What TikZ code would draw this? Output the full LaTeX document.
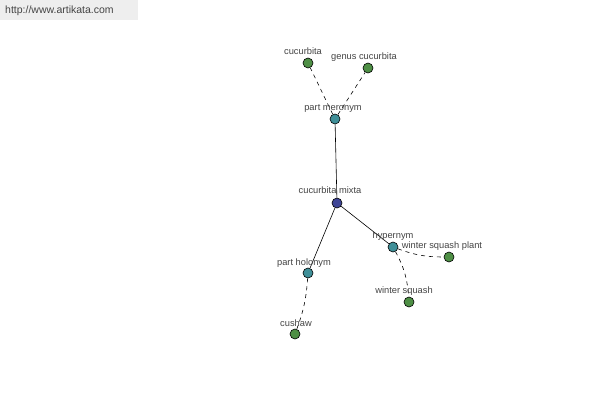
\documentclass[tikz,border=0pt]{standalone}
\usepackage{fontspec}
\setmainfont{Liberation Sans}
\definecolor{gnode}{HTML}{4E8F45}
\definecolor{tnode}{HTML}{3F8F98}
\definecolor{bnode}{HTML}{3F4596}
\definecolor{lbl}{HTML}{444444}
\definecolor{hdr}{HTML}{EEEEEE}
\begin{document}
\begin{tikzpicture}[x=1pt,y=-1pt,
  dot/.style={circle,draw=black,line width=0.6pt,minimum size=10pt,inner sep=0pt},
  gdot/.style={dot,fill=gnode},
  tdot/.style={dot,fill=tnode},
  bdot/.style={dot,fill=bnode},
  lab/.style={font=\fontsize{9.3}{10}\selectfont,text=lbl,inner sep=0pt},
  solidedge/.style={draw=black,line width=0.6pt},
  dashedge/.style={draw=black,line width=0.6pt,dashed,dash pattern=on 4pt off 4pt}]
\useasboundingbox (0,0) rectangle (600,400);
\fill[white] (0,0) rectangle (600,400);
\fill[hdr] (0,0) rectangle (138,20);
\node[font=\fontsize{10.5}{12}\selectfont,text=lbl,anchor=west,inner sep=0pt] (url) at (5,11) {http://www.artikata.com};
% nodes
\node[gdot] (cuc) at (308,63) {};
\node[gdot] (gen) at (368,68) {};
\node[tdot] (mer) at (335,119) {};
\node[bdot] (mix) at (337,203) {};
\node[tdot] (hyp) at (393,247) {};
\node[gdot] (wsp) at (449,257) {};
\node[tdot] (hol) at (308,273) {};
\node[gdot] (ws) at (409,302) {};
\node[gdot] (cus) at (295,334) {};
% edges
\draw[dashedge] (mer) -- (cuc);
\draw[dashedge] (mer) -- (gen);
\draw[solidedge] (mer) -- (mix);
\draw[solidedge] (mix) -- (hyp);
\draw[solidedge] (mix) -- (hol);
\draw[dashedge] (hyp) to[bend right=10] (wsp);
\draw[dashedge] (hyp) to[bend left=12] (ws);
\draw[dashedge] (hol) to[bend left=8] (cus);
% labels
\node[lab] (lcuc) at (303,51) {cucurbita};
\node[lab] (lgen) at (364,57) {genus cucurbita};
\node[lab] (lmer) at (333,108) {part meronym};
\node[lab] (lmix) at (330,190) {cucurbita mixta};
\node[lab] (lhyp) at (393,236) {hypernym};
\node[lab] (lwsp) at (442,246) {winter squash plant};
\node[lab] (lhol) at (304,263) {part holonym};
\node[lab] (lws) at (404,291) {winter squash};
\node[lab] (lcus) at (296,323) {cushaw};
\end{tikzpicture}
\end{document}
